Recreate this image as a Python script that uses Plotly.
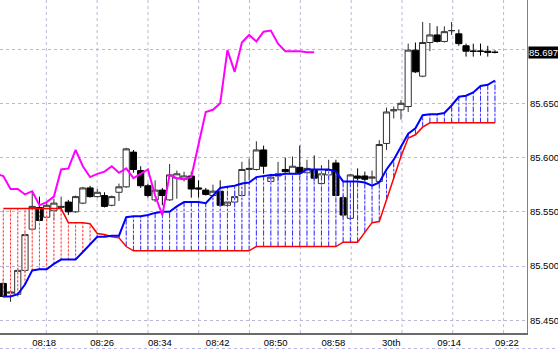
import pandas as pd
import plotly.graph_objects as go

# ---------------- data (USD/JPY 1-minute bars) ----------------
start = pd.Timestamp("2010-07-30 08:14:00")

open_ = [85.484, 85.475, 85.474, 85.496, 85.534, 85.554, 85.545, 85.551, 85.554, 85.559,
         85.550, 85.558, 85.572, 85.564, 85.565, 85.556, 85.568, 85.573, 85.605, 85.588,
         85.574, 85.561, 85.570, 85.561, 85.581, 85.580, 85.583, 85.572, 85.570, 85.565,
         85.569, 85.556, 85.559, 85.565, 85.589, 85.589, 85.607, 85.578, 85.583, 85.589,
         85.585, 85.591, 85.586, 85.589, 85.576, 85.584, 85.595, 85.563, 85.544, 85.583,
         85.583, 85.581, 85.578, 85.613, 85.643, 85.644, 85.647, 85.699, 85.675, 85.706,
         85.713, 85.707, 85.717, 85.714, 85.703, 85.698, 85.698, 85.698, 85.697]
high = [85.488, 85.479, 85.498, 85.531, 85.569, 85.564, 85.558, 85.562, 85.564, 85.561,
        85.565, 85.573, 85.574, 85.571, 85.568, 85.565, 85.576, 85.609, 85.607, 85.592,
        85.576, 85.579, 85.572, 85.594, 85.588, 85.587, 85.587, 85.579, 85.572, 85.575,
        85.579, 85.565, 85.570, 85.596, 85.599, 85.615, 85.611, 85.585, 85.596, 85.600,
        85.601, 85.611, 85.598, 85.602, 85.593, 85.598, 85.598, 85.565, 85.585, 85.590,
        85.587, 85.588, 85.616, 85.646, 85.647, 85.653, 85.705, 85.706, 85.725, 85.724,
        85.721, 85.721, 85.725, 85.718, 85.705, 85.705, 85.705, 85.703, 85.699]
low = [85.471, 85.467, 85.472, 85.494, 85.532, 85.541, 85.543, 85.542, 85.550, 85.547,
       85.549, 85.557, 85.563, 85.563, 85.554, 85.555, 85.560, 85.572, 85.586, 85.572,
       85.563, 85.559, 85.556, 85.560, 85.562, 85.578, 85.563, 85.563, 85.565, 85.564,
       85.555, 85.555, 85.558, 85.564, 85.579, 85.588, 85.585, 85.577, 85.578, 85.586,
       85.584, 85.584, 85.584, 85.577, 85.574, 85.582, 85.564, 85.545, 85.542, 85.579,
       85.578, 85.575, 85.577, 85.607, 85.636, 85.635, 85.642, 85.678, 85.674, 85.698,
       85.706, 85.706, 85.713, 85.703, 85.693, 85.693, 85.694, 85.693, 85.696]
close = [85.472, 85.476, 85.496, 85.529, 85.555, 85.542, 85.556, 85.558, 85.555, 85.550,
         85.564, 85.572, 85.564, 85.568, 85.555, 85.564, 85.573, 85.608, 85.589, 85.574,
         85.565, 85.570, 85.565, 85.584, 85.585, 85.583, 85.571, 85.571, 85.566, 85.569,
         85.556, 85.559, 85.564, 85.589, 85.590, 85.607, 85.592, 85.582, 85.585, 85.587,
         85.592, 85.586, 85.590, 85.581, 85.585, 85.589, 85.565, 85.547, 85.584, 85.581,
         85.580, 85.582, 85.612, 85.642, 85.644, 85.650, 85.699, 85.679, 85.706, 85.713,
         85.707, 85.716, 85.717, 85.705, 85.698, 85.698, 85.698, 85.697, 85.697]

blue_line = [85.472, 85.472, 85.474, 85.483, 85.496, 85.497, 85.497, 85.502, 85.506, 85.506,
             85.506, 85.513, 85.520, 85.527, 85.527, 85.528, 85.528, 85.545, 85.546, 85.546,
             85.547, 85.549, 85.550, 85.550, 85.555, 85.559, 85.559, 85.559, 85.558, 85.565,
             85.572, 85.573, 85.574, 85.576, 85.577, 85.582, 85.583, 85.584, 85.584, 85.585,
             85.585, 85.585, 85.589, 85.589, 85.589, 85.589, 85.587, 85.578, 85.578, 85.578,
             85.577, 85.574, 85.577, 85.589, 85.598, 85.610, 85.622, 85.627, 85.639, 85.640,
             85.640, 85.641, 85.648, 85.656, 85.657, 85.660, 85.666, 85.667, 85.671]
red_line = [85.553, 85.553, 85.553, 85.553, 85.553, 85.553, 85.553, 85.553, 85.553, 85.540,
            85.540, 85.540, 85.539, 85.530, 85.529, 85.527, 85.526, 85.518, 85.514, 85.514,
            85.514, 85.514, 85.514, 85.514, 85.514, 85.514, 85.514, 85.514, 85.514, 85.514,
            85.514, 85.514, 85.514, 85.514, 85.514, 85.518, 85.518, 85.518, 85.518, 85.518,
            85.518, 85.518, 85.518, 85.518, 85.518, 85.518, 85.518, 85.522, 85.522, 85.522,
            85.531, 85.540, 85.541, 85.561, 85.581, 85.601, 85.618, 85.621, 85.628, 85.632,
            85.632, 85.632, 85.632, 85.632, 85.632, 85.632, 85.632, 85.632, 85.632]

chikou_shift = 25          # lagging line: close plotted 25 bars back
chikou_first_bar = 24
tick_bars = [4, 12, 20, 28, 36, 44, 52, 60, 68]
tick_labels = ["08:18", "08:26", "08:34", "08:42", "08:50", "08:58", "30th", "09:14", "09:22"]
y_ticks = [85.450, 85.500, 85.550, 85.600, 85.650, 85.700]
y_ticktext = ["85.450", "85.500", "85.550", "85.600", "85.650", ""]
last_price = 85.697

# ---------------- helpers ----------------
def t(m):
    return start + pd.Timedelta(minutes=m)

n = len(close)
times = [t(i) for i in range(n)]
FONT = "Liberation Sans, Arial, sans-serif"
GRID = "#c0b4d4"

fig = go.Figure()

# cloud hatching
bx, by, rx, ry = [], [], [], []
for i in range(n):
    if blue_line[i] >= red_line[i]:
        bx += [times[i], times[i], None]
        by += [red_line[i], blue_line[i], None]
    else:
        rx += [times[i], times[i], None]
        ry += [blue_line[i], red_line[i], None]

fig.add_trace(go.Scatter(x=bx, y=by, mode="lines", line=dict(color="#d4c8ff", width=1),
                         hoverinfo="skip", showlegend=False))
fig.add_trace(go.Scatter(x=bx, y=by, mode="lines",
                         line=dict(color="#3030ff", width=1, dash="5px,2px,2px,2px"),
                         hoverinfo="skip", showlegend=False))
fig.add_trace(go.Scatter(x=rx, y=ry, mode="lines", line=dict(color="#ffd0d0", width=1),
                         hoverinfo="skip", showlegend=False))
fig.add_trace(go.Scatter(x=rx, y=ry, mode="lines",
                         line=dict(color="#ff3030", width=1, dash="2px,2px"),
                         hoverinfo="skip", showlegend=False))

# candles
fig.add_trace(go.Candlestick(
    x=times, open=open_, high=high, low=low, close=close,
    increasing=dict(line=dict(color="#303030", width=1), fillcolor="white"),
    decreasing=dict(line=dict(color="#000000", width=1), fillcolor="black"),
    whiskerwidth=0, hoverinfo="skip", showlegend=False))

# indicator lines
fig.add_trace(go.Scatter(x=times, y=red_line, mode="lines",
                         line=dict(color="#ff0000", width=1.5), hoverinfo="skip", showlegend=False))
fig.add_trace(go.Scatter(x=times, y=blue_line, mode="lines",
                         line=dict(color="#0000ff", width=2), hoverinfo="skip", showlegend=False))
ch_x = [t(i - chikou_shift) for i in range(chikou_first_bar, n)]
ch_y = close[chikou_first_bar:]
fig.add_trace(go.Scatter(x=ch_x, y=ch_y, mode="lines",
                         line=dict(color="#ff00ff", width=2), hoverinfo="skip", showlegend=False))

# vertical dotted grid (every ~7 bars)
shapes = []
for g in range(10):
    gx = t(5.95 + 7.027 * g)
    shapes.append(dict(type="line", xref="x", yref="paper", x0=gx, x1=gx, y0=0, y1=1,
                       line=dict(color=GRID, width=1, dash="dot"), layer="below"))
shapes.append(dict(type="line", xref="paper", yref="paper", x0=0, x1=558 / 527,
                   y0=-15.5 / 333, y1=-15.5 / 333,
                   line=dict(color="#b8b8e8", width=1, dash="dot")))

fig.update_layout(
    width=558, height=349,
    margin=dict(l=0, r=31, t=0, b=16, pad=0),
    paper_bgcolor="white", plot_bgcolor="white",
    boxgap=0.1, boxgroupgap=0.05,
    showlegend=False,
    shapes=shapes,
    xaxis=dict(type="date", range=[t(-0.456), t(72.43)],
               tickvals=[times[b] for b in tick_bars], ticktext=tick_labels,
               ticks="", showgrid=False, zeroline=False,
               ticklabelshift=12,
               tickfont=dict(family=FONT, size=9.5, color="black"),
               showline=True, linecolor="#6a6a6a", linewidth=2,
               rangeslider=dict(visible=False), fixedrange=True),
    yaxis=dict(side="right", range=[85.4383, 85.7452],
               tickvals=y_ticks, ticktext=y_ticktext,
               ticks="", showgrid=True, gridcolor=GRID, griddash="dot", gridwidth=1,
               zeroline=False,
               tickfont=dict(family=FONT, size=9.5, color="black"),
               showline=True, linecolor="#808080", linewidth=1, fixedrange=True),
    annotations=[dict(x=1, xref="paper", xanchor="left", xshift=1,
                      y=last_price, yref="y", yanchor="middle",
                      text=f"{last_price:.3f}", showarrow=False,
                      bgcolor="black", borderpad=0,
                      font=dict(family=FONT, size=9.5, color="white"))],
)

fig.write_html("out.html")
